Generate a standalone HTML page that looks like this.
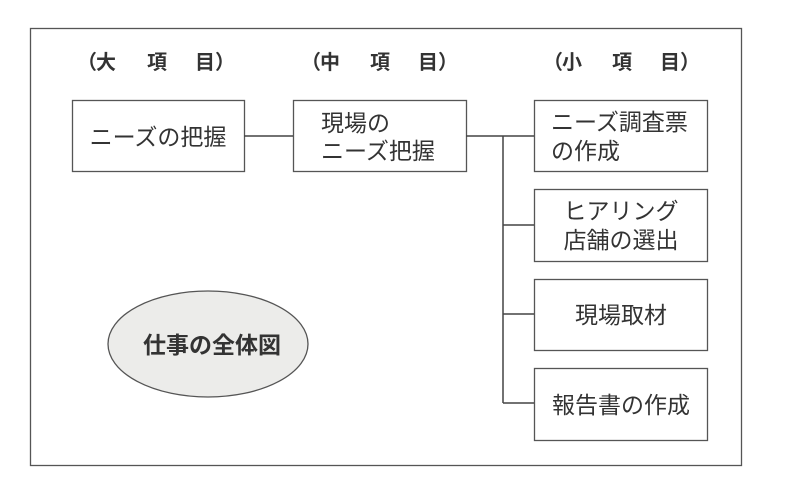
<!DOCTYPE html>
<html><head><meta charset="utf-8"><style>
body{margin:0;background:#fff;}
svg text{font-family:"Liberation Sans","Noto Sans CJK JP",sans-serif;fill:#333;}
</style></head><body>
<svg width="786" height="494" xmlns="http://www.w3.org/2000/svg">
<rect width="786" height="494" fill="#fff"/>
<rect x="30.5" y="28.5" width="711" height="437" fill="none" stroke="#555" stroke-width="1.3"/>
<g font-size="20" font-weight="bold">
<text x="77" y="69">（</text><text x="96" y="69">大</text><text x="147" y="69">項</text><text x="195" y="69">目</text><text x="215" y="69">）</text>
<text x="301" y="69">（</text><text x="320" y="69">中</text><text x="370" y="69">項</text><text x="418" y="69">目</text><text x="438" y="69">）</text>
<text x="543" y="69">（</text><text x="562" y="69">小</text><text x="612" y="69">項</text><text x="660" y="69">目</text><text x="680" y="69">）</text>
</g>
<g fill="#fff" stroke="#555" stroke-width="1.3">
<rect x="72.5" y="100.5" width="172" height="71"/>
<rect x="293.5" y="100.5" width="173" height="71"/>
<rect x="534.5" y="100.5" width="173" height="71"/>
<rect x="534.5" y="189.5" width="173" height="72"/>
<rect x="534.5" y="279.5" width="173" height="71"/>
<rect x="534.5" y="368.5" width="173" height="72"/>
</g>
<g stroke="#444" stroke-width="1.5" fill="none">
<line x1="244" y1="136" x2="293" y2="136"/>
<line x1="466" y1="136" x2="534" y2="136"/>
<line x1="503" y1="136" x2="503" y2="403"/>
<line x1="503" y1="225" x2="534" y2="225"/>
<line x1="503" y1="314" x2="534" y2="314"/>
<line x1="503" y1="403" x2="534" y2="403"/>
</g>
<ellipse cx="208" cy="344" rx="100" ry="53" fill="#ececea" stroke="#555" stroke-width="1.3"/>
<g font-size="23">
<text x="158" y="145" text-anchor="middle">ニーズの把握</text>
<text x="321" y="131">現場の</text>
<text x="321" y="159">ニーズ把握</text>
<text x="551" y="130">ニーズ調査票</text>
<text x="551" y="159">の作成</text>
<text x="621" y="219" text-anchor="middle">ヒアリング</text>
<text x="621" y="248" text-anchor="middle">店舗の選出</text>
<text x="621" y="323" text-anchor="middle">現場取材</text>
<text x="621" y="413" text-anchor="middle">報告書の作成</text>
<text x="212" y="353" text-anchor="middle" font-weight="bold">仕事の全体図</text>
</g>
</svg>
</body></html>
